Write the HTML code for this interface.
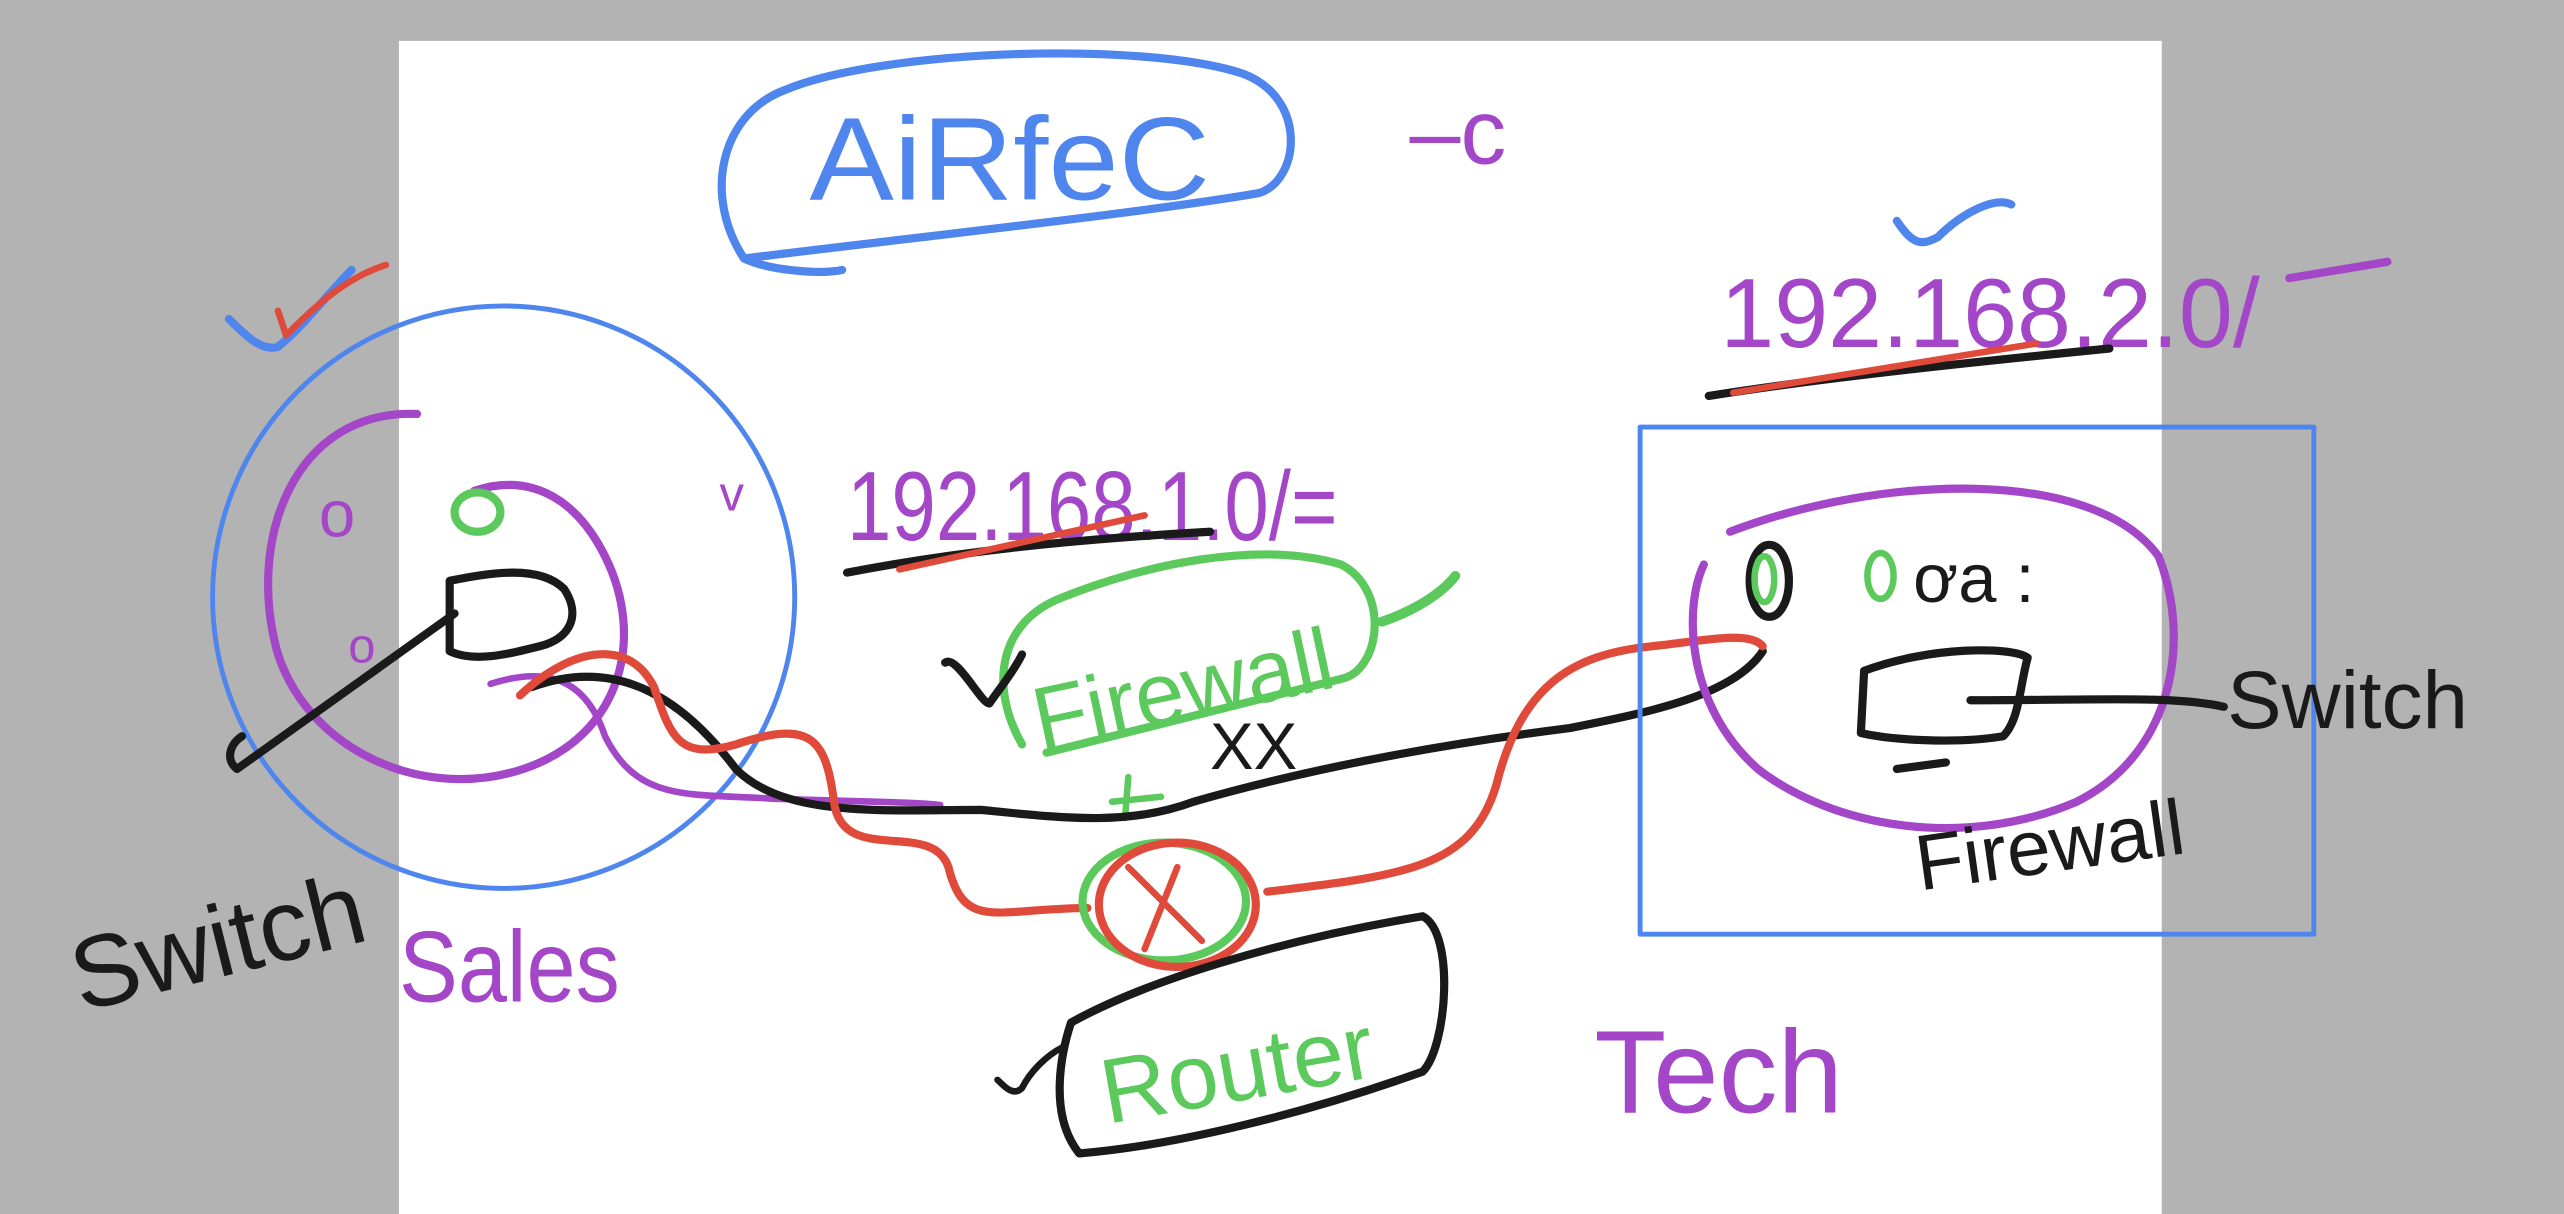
<!DOCTYPE html>
<html><head><meta charset="utf-8"><style>
html,body{margin:0;padding:0;width:2564px;height:1214px;overflow:hidden;background:#b3b3b3}
svg{display:block}
text{font-family:"Liberation Sans",sans-serif}
</style></head><body>
<svg width="2564" height="1214" viewBox="0 0 1568 742" preserveAspectRatio="none" fill="none" stroke-linecap="round" stroke-linejoin="round">
<rect x="0" y="0" width="1568" height="742" fill="#b3b3b3" stroke="none"/>
<rect x="244" y="25" width="1078" height="717" fill="#fff" stroke="none"/>
<!-- AiRfeC -->
<path d="M455 158 C430 120 440 70 480 55 C540 30 700 25 760 45 C800 60 795 110 770 118 C700 130 560 145 455 158 C470 165 500 168 515 165" stroke="#4f86ee" stroke-width="5"/>
<text x="495" y="122" font-size="72" fill="#4f86ee" textLength="245" lengthAdjust="spacingAndGlyphs">AiRfeC</text>
<text x="862" y="100" font-size="56" fill="#a346c8">–c</text>
<!-- Sales circles -->
<path d="M140 195 C150 205 160 215 170 212 C185 200 200 180 215 165" stroke="#4f86ee" stroke-width="5"/>
<path d="M170 190 L175 205 C190 190 210 170 236 162" stroke="#e04a3a" stroke-width="4"/>
<circle cx="308" cy="365" r="178" stroke="#4f86ee" stroke-width="3"/>
<path d="M255 253 C180 250 150 330 170 400 C190 460 260 490 320 470 C380 450 395 390 370 340 C350 300 320 290 290 300" stroke="#a346c8" stroke-width="5"/>
<path d="M300 418 C340 405 360 420 370 450 C390 490 420 485 470 488 C520 490 560 490 575 492" stroke="#a346c8" stroke-width="4"/>
<text x="195" y="328" font-size="40" fill="#a346c8">o</text>
<text x="213" y="405" font-size="30" fill="#a346c8">o</text>
<text x="440" y="312" font-size="30" fill="#a346c8">v</text>
<ellipse cx="292" cy="313" rx="14" ry="12" stroke="#5cc95c" stroke-width="5"/>
<path d="M275 355 C300 350 330 345 345 360 C355 375 350 390 330 395 C310 400 290 405 275 398 Z" stroke="#1a1a1a" stroke-width="5"/>
<path d="M278 375 L145 470 C138 465 140 455 148 450" stroke="#1a1a1a" stroke-width="5"/>
<text x="40" y="600" font-size="62" fill="#1a1a1a" transform="rotate(-14 120 570)">Switch</text>
<text x="244" y="612" font-size="62" fill="#a346c8" textLength="135" lengthAdjust="spacingAndGlyphs">Sales</text>
<!-- IPs -->
<text x="518" y="330" font-size="60" fill="#a346c8" textLength="300" lengthAdjust="spacingAndGlyphs">192.168.1.0/=</text>
<path d="M518 350 C580 338 650 330 740 325" stroke="#1a1a1a" stroke-width="5"/>
<path d="M550 348 L700 315" stroke="#e04a3a" stroke-width="4"/>
<text x="1052" y="212" font-size="60" fill="#a346c8" textLength="330" lengthAdjust="spacingAndGlyphs">192.168.2.0/</text>
<path d="M1400 170 L1460 160" stroke="#a346c8" stroke-width="5"/>
<path d="M1160 135 C1170 150 1175 150 1185 145 C1200 130 1220 120 1230 125" stroke="#4f86ee" stroke-width="5"/>
<path d="M1045 242 C1120 230 1220 220 1290 213" stroke="#1a1a1a" stroke-width="5"/>
<path d="M1060 240 L1245 210" stroke="#e04a3a" stroke-width="4"/>
<!-- Firewall mid -->
<path d="M625 455 C605 420 610 380 650 365 C700 345 770 330 820 345 C850 360 845 410 820 415 C760 430 700 445 640 460" stroke="#5cc95c" stroke-width="5"/>
<path d="M845 380 C860 375 880 365 890 352" stroke="#5cc95c" stroke-width="6"/>
<text x="628" y="440" font-size="54" fill="#5cc95c" transform="rotate(-12 720 410)">Firewall</text>
<path d="M578 405 C585 400 600 430 605 430 C612 420 620 410 625 400" stroke="#1a1a1a" stroke-width="5"/>
<text x="740" y="470" font-size="40" fill="#1a1a1a">XX</text>
<path d="M690 475 L688 500 M680 490 L710 487" stroke="#5cc95c" stroke-width="4"/>
<!-- black cable -->
<path d="M325 420 C380 400 420 430 450 470 C480 500 540 495 600 495 C650 500 690 505 730 490 C800 470 880 455 960 445 C1010 435 1060 425 1078 398" stroke="#1a1a1a" stroke-width="5"/>
<!-- red cable -->
<path d="M318 425 C350 395 385 390 400 420 C410 450 415 465 450 455 C495 440 505 450 510 490 C515 530 570 500 580 530 C590 570 610 555 665 555" stroke="#e04a3a" stroke-width="5"/>
<path d="M775 545 C860 535 900 530 915 480 C930 420 960 400 1010 395 C1040 392 1070 385 1078 395" stroke="#e04a3a" stroke-width="5"/>
<!-- router -->
<ellipse cx="712" cy="551" rx="50" ry="36" stroke="#5cc95c" stroke-width="5"/>
<ellipse cx="720" cy="553" rx="48" ry="38" stroke="#e04a3a" stroke-width="5"/>
<path d="M690 530 L735 575 M720 530 L700 580" stroke="#e04a3a" stroke-width="4"/>
<path d="M655 625 C700 600 780 575 870 560 C890 570 885 640 870 655 C800 680 720 700 660 705 C640 680 650 640 655 625 Z" stroke="#1a1a1a" stroke-width="5"/>
<path d="M610 660 C615 665 620 670 625 665 C630 655 640 645 650 640" stroke="#1a1a1a" stroke-width="4"/>
<text x="672" y="672" font-size="56" fill="#5cc95c" transform="rotate(-10 760 650)">Router</text>
<!-- Tech -->
<rect x="1003" y="261" width="412" height="310" stroke="#4f86ee" stroke-width="3"/>
<path d="M1058 325 C1150 290 1280 285 1320 340 C1340 390 1330 460 1270 490 C1200 520 1120 505 1075 470 C1030 430 1030 370 1042 345" stroke="#a346c8" stroke-width="5"/>
<ellipse cx="1082" cy="355" rx="12" ry="22" stroke="#1a1a1a" stroke-width="5"/>
<ellipse cx="1079" cy="354" rx="6" ry="14" stroke="#5cc95c" stroke-width="4"/>
<ellipse cx="1150" cy="352" rx="8" ry="14" stroke="#5cc95c" stroke-width="4"/>
<text x="1170" y="368" font-size="42" fill="#1a1a1a">ơa :</text>
<path d="M1140 410 C1180 395 1230 395 1240 402 C1235 420 1235 440 1225 450 C1195 455 1155 452 1138 448 Z" stroke="#1a1a1a" stroke-width="5"/>
<path d="M1205 428 C1280 428 1330 425 1360 432" stroke="#1a1a1a" stroke-width="5"/>
<text x="1362" y="445" font-size="50" fill="#1a1a1a">Switch</text>
<path d="M1160 470 L1190 466" stroke="#1a1a1a" stroke-width="5"/>
<text x="1170" y="532" font-size="48" fill="#1a1a1a" transform="rotate(-8 1260 510)">Firewall</text>
<text x="975" y="680" font-size="72" fill="#a346c8">Tech</text>
</svg>
</body></html>
